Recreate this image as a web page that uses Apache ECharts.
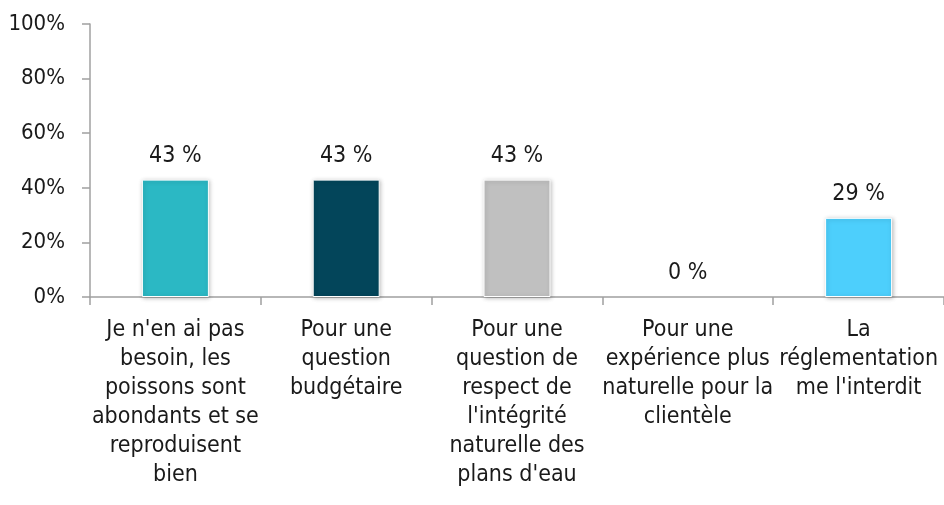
<!DOCTYPE html>
<html>
<head>
<meta charset="utf-8">
<script src="https://cdn.jsdelivr.net/npm/echarts@6/dist/echarts.min.js"></script>
<style>
  html, body { margin: 0; padding: 0; background: #fff; }
  #chart { width: 944px; height: 505px; }
</style>
</head>
<body>
<div id="chart"></div>
<script>
const categories = [
  "Je n'en ai pas\nbesoin, les\npoissons sont\nabondants et se\nreproduisent\nbien",
  'Pour une\nquestion\nbudgétaire',
  'Pour une\nquestion de\nrespect de\nl\'intégrité\nnaturelle des\nplans d\'eau',
  'Pour une\nexpérience plus\nnaturelle pour la\nclientèle',
  'La\nréglementation\nme l\'interdit'
]
const values = [43, 43, 43, 0, 29]
const barColors = ['#2bb8c4', '#03455a', '#c0c0c0', '#2bb8c4', '#4dcffc']
const yTicks = [0, 20, 40, 60, 80, 100]

const FONT = "'Liberation Sans Narrow', 'Arial Narrow', 'DejaVu Sans Condensed', sans-serif"

const chart = echarts.init(document.getElementById('chart'))
chart.setOption({
  backgroundColor: '#fff',
  animation: false,
  grid: { left: 90, top: 24, width: 860, bottom: 208 },
  xAxis: {
    type: 'category',
    data: categories,
    axisLine: { lineStyle: { color: '#a0a0a0', width: 1.5 } },
    axisTick: { show: true, length: 8, lineStyle: { color: '#a0a0a0', width: 1.5 } },
    axisLabel: {
      color: '#1a1a1a', fontSize: 23, fontFamily: FONT, lineHeight: 29,
      margin: 19, interval: 0, align: 'center'
    }
  },
  yAxis: {
    type: 'value', min: yTicks[0], max: yTicks[yTicks.length - 1], interval: 20,
    axisLine: { show: true, lineStyle: { color: '#a0a0a0', width: 1.5 } },
    axisTick: { show: true, length: 8, lineStyle: { color: '#a0a0a0', width: 1.5 } },
    axisLabel: { color: '#1a1a1a', fontSize: 22, fontFamily: FONT, margin: 25, formatter: v => v + '%' },
    splitLine: { show: false }
  },
  series: [{
    type: 'bar',
    data: values.map((v, i) => ({
      value: v,
      itemStyle: v === 0
        ? { color: 'rgba(0,0,0,0)', borderWidth: 0, shadowBlur: 0, shadowColor: 'rgba(0,0,0,0)' }
        : { color: barColors[i] }
    })),
    barWidth: 67,
    itemStyle: {
      borderColor: '#ffffff', borderWidth: 1,
      shadowColor: 'rgba(0,0,0,0.25)', shadowBlur: 4, shadowOffsetX: 1, shadowOffsetY: 1
    },
    label: {
      show: true, position: 'top', distance: 12,
      color: '#1a1a1a', fontSize: 23, fontFamily: FONT,
      formatter: p => p.value + ' %'
    }
  }]
})
</script>
</body>
</html>
